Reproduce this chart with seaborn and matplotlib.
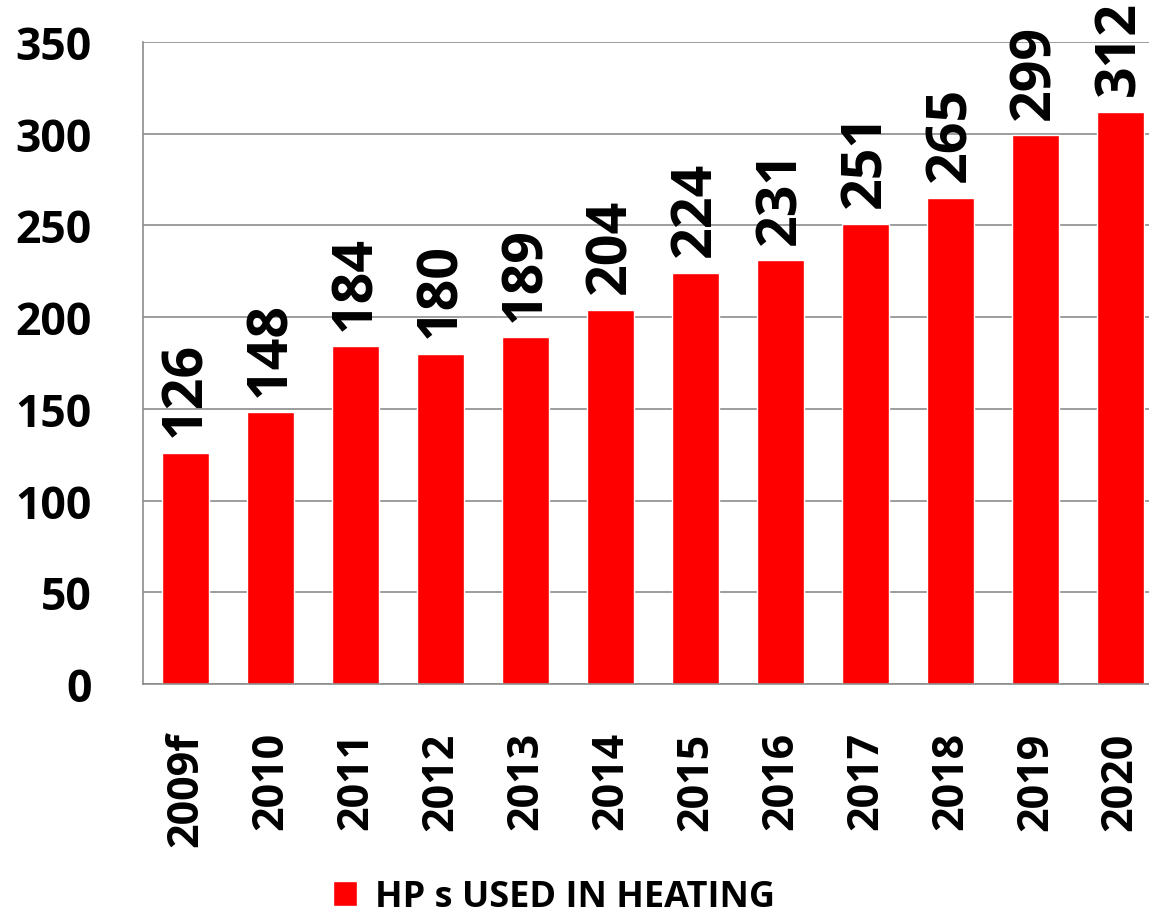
import numpy as np
import pandas as pd
import matplotlib
matplotlib.use('Agg')
import matplotlib.pyplot as plt
import seaborn as sns
from matplotlib.ticker import FixedLocator

# 数据
years = ['2009f', '2010', '2011', '2012', '2013', '2014',
         '2015', '2016', '2017', '2018', '2019', '2020']
values = [126, 148, 184, 180, 189, 204, 224, 231, 251, 265, 299, 312]
series_name = 'HP s USED IN HEATING'

sns.set_style('white')
plt.rcParams['font.family'] = ['Open Sans', 'DejaVu Sans']
plt.rcParams['font.weight'] = 'bold'
plt.rcParams['text.color'] = 'black'
plt.rcParams['xtick.color'] = 'black'
plt.rcParams['ytick.color'] = 'black'

df = pd.DataFrame({'year': years, 'value': values})

fig = plt.figure(figsize=(11.49, 9.2), dpi=100)
ax = fig.add_axes([0.1245, 0.2554, 0.889, 0.698])

sns.barplot(data=df, x='year', y='value', color='#ff0000', saturation=1,
            width=0.55, label=series_name, ax=ax)

# 柱顶数值（竖排）
ax.bar_label(ax.containers[0], labels=[str(v) for v in values], rotation=90,
             padding=12, fontsize=40, fontweight='bold', color='black')

ax.set_ylim(0, 350)
ax.set_xlim(-0.5, len(years) - 0.5 + 0.02)
ax.set_yticks(np.arange(0, 351, 50))
ax.set_xlabel('')
ax.set_ylabel('')

# 网格与坐标轴
ax.yaxis.grid(True, color='#8c8c8c', linewidth=1.2)
ax.set_axisbelow(True)
for s in ['top', 'right']:
    ax.spines[s].set_visible(False)
for s in ['left', 'bottom']:
    ax.spines[s].set_color('#8c8c8c')
    ax.spines[s].set_linewidth(1.2)

ax.tick_params(axis='y', length=12, width=1.2, color='#8c8c8c', pad=25,
               labelsize=32, labelcolor='black')
ax.tick_params(axis='x', which='major', length=0, pad=34, labelsize=31,
               labelrotation=90, labelcolor='black')
ax.xaxis.set_minor_locator(FixedLocator(np.arange(-0.5, len(years), 1)))
ax.tick_params(axis='x', which='minor', length=12, width=1.2, color='#8c8c8c')
for lab in ax.get_xticklabels() + ax.get_yticklabels():
    lab.set_fontweight('bold')

# 图例
leg = ax.legend(loc='center', bbox_to_anchor=(0.482, 0.024), bbox_transform=fig.transFigure,
                frameon=False, handlelength=0.68, handleheight=0.68,
                handletextpad=0.5, borderpad=0, prop={'weight': 'bold', 'size': 26})

fig.savefig('out.png', dpi=100)
